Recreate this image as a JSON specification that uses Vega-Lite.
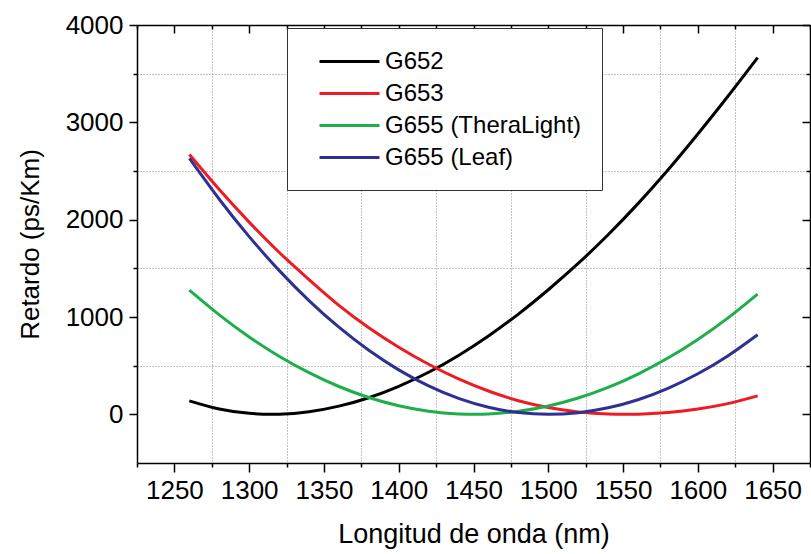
{
  "$schema": "https://vega.github.io/schema/vega-lite/v6.json",
  "autosize": {"type": "none"},
  "padding": {"left": 137, "top": 25, "right": 1, "bottom": 91},
  "width": 673,
  "height": 438,
  "background": "white",
  "config": {
    "font": "Liberation Sans",
    "view": {"stroke": null},
    "axis": {"labelFont": "Liberation Sans", "titleFont": "Liberation Sans", "titleFontWeight": "normal", "labelColor": "black", "titleColor": "black", "domainColor": "black", "tickColor": "black"}
  },
  "data": {"values": [
    {"series": "G652", "wl": 1260, "d": 138},
    {"series": "G652", "wl": 1280, "d": 54},
    {"series": "G652", "wl": 1300, "d": 10},
    {"series": "G652", "wl": 1320, "d": 1},
    {"series": "G652", "wl": 1340, "d": 26},
    {"series": "G652", "wl": 1360, "d": 84},
    {"series": "G652", "wl": 1380, "d": 170},
    {"series": "G652", "wl": 1400, "d": 288},
    {"series": "G652", "wl": 1420, "d": 432},
    {"series": "G652", "wl": 1440, "d": 605},
    {"series": "G652", "wl": 1460, "d": 805},
    {"series": "G652", "wl": 1480, "d": 1030},
    {"series": "G652", "wl": 1500, "d": 1280},
    {"series": "G652", "wl": 1520, "d": 1550},
    {"series": "G652", "wl": 1540, "d": 1845},
    {"series": "G652", "wl": 1560, "d": 2165},
    {"series": "G652", "wl": 1580, "d": 2510},
    {"series": "G652", "wl": 1600, "d": 2880},
    {"series": "G652", "wl": 1620, "d": 3265},
    {"series": "G652", "wl": 1640, "d": 3665},
    {"series": "G653", "wl": 1260, "d": 2670},
    {"series": "G653", "wl": 1280, "d": 2310},
    {"series": "G653", "wl": 1300, "d": 1975},
    {"series": "G653", "wl": 1320, "d": 1665},
    {"series": "G653", "wl": 1340, "d": 1385},
    {"series": "G653", "wl": 1360, "d": 1120},
    {"series": "G653", "wl": 1380, "d": 890},
    {"series": "G653", "wl": 1400, "d": 690},
    {"series": "G653", "wl": 1420, "d": 515},
    {"series": "G653", "wl": 1440, "d": 365},
    {"series": "G653", "wl": 1460, "d": 240},
    {"series": "G653", "wl": 1480, "d": 140},
    {"series": "G653", "wl": 1500, "d": 70},
    {"series": "G653", "wl": 1520, "d": 25},
    {"series": "G653", "wl": 1540, "d": 3},
    {"series": "G653", "wl": 1560, "d": 2},
    {"series": "G653", "wl": 1580, "d": 20},
    {"series": "G653", "wl": 1600, "d": 55},
    {"series": "G653", "wl": 1620, "d": 110},
    {"series": "G653", "wl": 1640, "d": 190},
    {"series": "G655 (TheraLight)", "wl": 1260, "d": 1276},
    {"series": "G655 (TheraLight)", "wl": 1280, "d": 1022},
    {"series": "G655 (TheraLight)", "wl": 1300, "d": 795},
    {"series": "G655 (TheraLight)", "wl": 1320, "d": 597},
    {"series": "G655 (TheraLight)", "wl": 1340, "d": 428},
    {"series": "G655 (TheraLight)", "wl": 1360, "d": 286},
    {"series": "G655 (TheraLight)", "wl": 1380, "d": 173},
    {"series": "G655 (TheraLight)", "wl": 1400, "d": 88},
    {"series": "G655 (TheraLight)", "wl": 1420, "d": 32},
    {"series": "G655 (TheraLight)", "wl": 1440, "d": 4},
    {"series": "G655 (TheraLight)", "wl": 1460, "d": 3},
    {"series": "G655 (TheraLight)", "wl": 1480, "d": 31},
    {"series": "G655 (TheraLight)", "wl": 1500, "d": 86},
    {"series": "G655 (TheraLight)", "wl": 1520, "d": 168},
    {"series": "G655 (TheraLight)", "wl": 1540, "d": 277},
    {"series": "G655 (TheraLight)", "wl": 1560, "d": 414},
    {"series": "G655 (TheraLight)", "wl": 1580, "d": 578},
    {"series": "G655 (TheraLight)", "wl": 1600, "d": 770},
    {"series": "G655 (TheraLight)", "wl": 1620, "d": 988},
    {"series": "G655 (TheraLight)", "wl": 1640, "d": 1235},
    {"series": "G655 (Leaf)", "wl": 1260, "d": 2630},
    {"series": "G655 (Leaf)", "wl": 1280, "d": 2210},
    {"series": "G655 (Leaf)", "wl": 1300, "d": 1826},
    {"series": "G655 (Leaf)", "wl": 1320, "d": 1479},
    {"series": "G655 (Leaf)", "wl": 1340, "d": 1169},
    {"series": "G655 (Leaf)", "wl": 1360, "d": 895},
    {"series": "G655 (Leaf)", "wl": 1380, "d": 658},
    {"series": "G655 (Leaf)", "wl": 1400, "d": 457},
    {"series": "G655 (Leaf)", "wl": 1420, "d": 292},
    {"series": "G655 (Leaf)", "wl": 1440, "d": 164},
    {"series": "G655 (Leaf)", "wl": 1460, "d": 73},
    {"series": "G655 (Leaf)", "wl": 1480, "d": 18},
    {"series": "G655 (Leaf)", "wl": 1500, "d": 0},
    {"series": "G655 (Leaf)", "wl": 1520, "d": 17},
    {"series": "G655 (Leaf)", "wl": 1540, "d": 67},
    {"series": "G655 (Leaf)", "wl": 1560, "d": 150},
    {"series": "G655 (Leaf)", "wl": 1580, "d": 267},
    {"series": "G655 (Leaf)", "wl": 1600, "d": 417},
    {"series": "G655 (Leaf)", "wl": 1620, "d": 600},
    {"series": "G655 (Leaf)", "wl": 1640, "d": 818}
  ]},
  "layer": [
    {
      "mark": {"type": "line", "strokeWidth": 3, "interpolate": "natural"},
      "encoding": {
        "x": {
          "field": "wl", "type": "quantitative",
          "scale": {"domain": [1225, 1675], "nice": false, "zero": false},
          "axis": {
            "orient": "bottom",
            "title": "Longitud de onda (nm)",
            "titleFontSize": 27, "titlePadding": 18,
            "values": [1225, 1250, 1275, 1300, 1325, 1350, 1375, 1400, 1425, 1450, 1475, 1500, 1525, 1550, 1575, 1600, 1625, 1650, 1675],
            "format": "d",
            "labelExpr": "datum.value % 50 === 0 ? datum.label : ''",
            "labelFontSize": 26, "labelPadding": 5, "labelFlush": false, "labelOverlap": false,
            "tickSize": {"condition": {"test": "datum.value % 50 === 0", "value": 9}, "value": 4},
            "tickWidth": 1.5, "domainWidth": 1.5,
            "grid": true, "gridDash": [1, 2], "gridColor": "#888", "gridWidth": 1,
            "gridOpacity": {"condition": {"test": "datum.value % 50 === 0", "value": 0}, "value": 1}
          }
        },
        "y": {
          "field": "d", "type": "quantitative",
          "scale": {"domain": [-500, 4000], "nice": false, "zero": false},
          "axis": {
            "orient": "left",
            "title": "Retardo (ps/Km)",
            "titleFontSize": 26, "titlePadding": 22,
            "values": [0, 500, 1000, 1500, 2000, 2500, 3000, 3500, 4000],
            "format": "d",
            "labelExpr": "datum.value % 1000 === 0 ? datum.label : ''",
            "labelFontSize": 26, "labelPadding": 6, "labelOverlap": false,
            "tickSize": {"condition": {"test": "datum.value % 1000 === 0", "value": 8}, "value": 4},
            "tickWidth": 1.5, "domainWidth": 1.5,
            "grid": true, "gridDash": [1, 2], "gridColor": "#888", "gridWidth": 1,
            "gridOpacity": {"condition": {"test": "datum.value % 1000 === 0", "value": 0}, "value": 1}
          }
        },
        "color": {
          "field": "series", "type": "nominal",
          "scale": {"domain": ["G652", "G653", "G655 (TheraLight)", "G655 (Leaf)"], "range": ["#000000", "#ED1C24", "#1EAF4B", "#2E3192"]},
          "legend": {
            "title": null,
            "orient": "none", "legendX": 150, "legendY": 3,
            "symbolType": "M-2.5,0H2.5", "symbolSize": 576, "symbolStrokeWidth": 3,
            "labelFontSize": 24, "labelFont": "Liberation Sans", "labelColor": "black", "labelOffset": 22, "labelLimit": 400,
            "rowPadding": 6, "padding": 20, "symbolOffset": 29,
            "fillColor": "white", "strokeColor": "#333", "cornerRadius": 0
          }
        }
      }
    },
    {
      "mark": {"type": "point", "opacity": 0},
      "encoding": {
        "x": {
          "field": "wl", "type": "quantitative",
          "scale": {"domain": [1225, 1675], "nice": false, "zero": false},
          "axis": {
            "orient": "top", "title": null, "labels": false, "grid": false,
            "values": [1225, 1250, 1275, 1300, 1325, 1350, 1375, 1400, 1425, 1450, 1475, 1500, 1525, 1550, 1575, 1600, 1625, 1650, 1675],
            "tickSize": {"condition": {"test": "datum.value % 50 === 0", "value": -8}, "value": -4},
            "tickWidth": 1.5, "domainWidth": 1.5
          }
        },
        "y": {
          "field": "d", "type": "quantitative",
          "scale": {"domain": [-500, 4000], "nice": false, "zero": false},
          "axis": {
            "orient": "right", "title": null, "labels": false, "grid": false,
            "values": [0, 500, 1000, 1500, 2000, 2500, 3000, 3500, 4000],
            "tickSize": {"condition": {"test": "datum.value % 1000 === 0", "value": -8}, "value": -4},
            "tickWidth": 1.5, "domainWidth": 1.5
          }
        }
      }
    }
  ],
  "resolve": {"axis": {"x": "independent", "y": "independent"}}
}
